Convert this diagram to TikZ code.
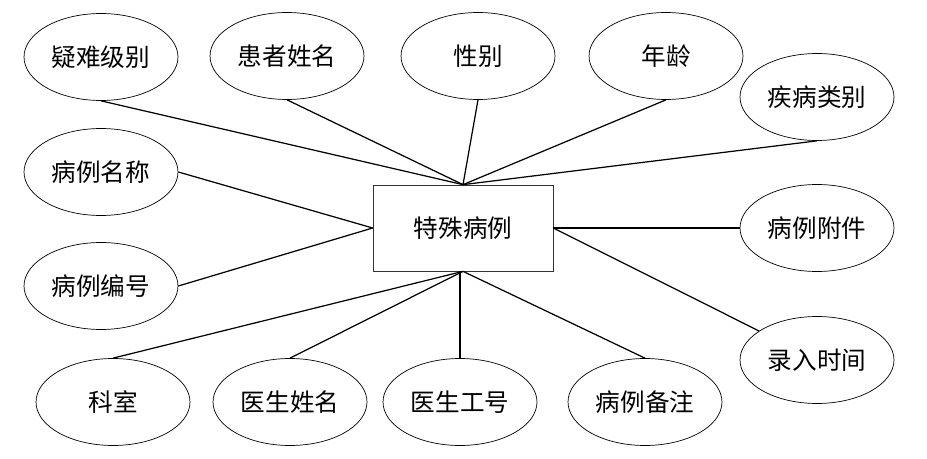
\documentclass[tikz,border=0pt]{standalone}
\usepackage{fontspec}
\newfontfamily\cjk{Noto Sans CJK SC}
\usetikzlibrary{shapes.geometric}
\tikzstyle{attr}=[ellipse,draw=black,thin,minimum width=3.08cm,minimum height=1.74cm,inner sep=0pt,font=\cjk\fontsize{14}{16}\selectfont]
\tikzstyle{entity}=[rectangle,draw=black!80,thin,minimum width=3.6cm,minimum height=1.72cm,inner sep=0pt,font=\cjk\fontsize{14}{16}\selectfont]
\tikzstyle{link}=[draw=black,line width=0.7pt]

\begin{document}
\begin{tikzpicture}[x=0.02cm,y=-0.02cm]
    \useasboundingbox (0,0) rectangle (927,459);

    %entity
    \node [entity] (case) at (463,228) {特殊病例};

    %attributes
    \foreach \n/\x/\y/\t in {nd/101/57/疑难级别,hz/287/56/患者姓名,xb/478/56/性别,nl/666/56/年龄,jb/817/97/疾病类别,
        mc/101/172/病例名称,bh/101/286/病例编号,fj/817/228/病例附件,lr/817/360/录入时间,
        ks/113/402/科室,ys/290/402/医生姓名,gh/460/402/医生工号,bz/645/402/病例备注} {
    \node [attr] (\n) at (\x,\y) {\t};
    }

    %top
    \foreach \n in {nd,hz,xb,nl,jb} {
    \draw [link] (\n.south) -- (case.north);
    }

    %left
    \foreach \n in {mc,bh} {
    \draw [link] (\n.east) -- (case.west);
    }

    %right
    \draw [link] (fj.west) -- (case.east);
    \draw [link] (case.east) -- (lr);

    %bottom
    \foreach \n in {ks,ys,bz} {
    \draw [link] (\n.north) -- (case.south);
    }
    \draw [link] (gh.north) -- (gh.north |- case.south);

\end{tikzpicture}
\end{document}
